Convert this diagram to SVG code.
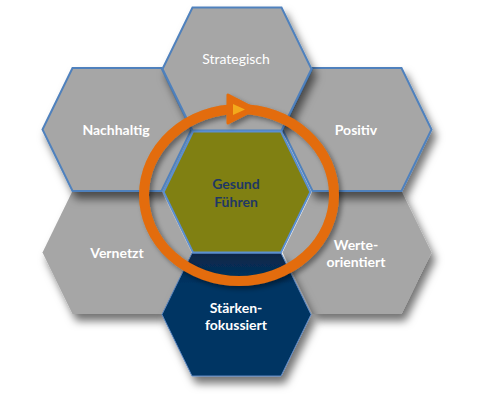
<svg xmlns="http://www.w3.org/2000/svg" xmlns:xlink="http://www.w3.org/1999/xlink" width="480" height="403" viewBox="0 0 480 403">
<defs>
<path id="hex" d="M-74.5,0 L-44.5,-61.5 L44.5,-61.5 L74.5,0 L44.5,61.5 L-44.5,61.5 Z"/>
<filter id="sh" x="-30%" y="-30%" width="160%" height="170%">
<feDropShadow dx="4" dy="7" stdDeviation="4" flood-color="#000" flood-opacity="0.55"/>
</filter>
<filter id="rsh" x="-20%" y="-20%" width="140%" height="140%">
<feDropShadow dx="3" dy="3" stdDeviation="2.5" flood-color="#000" flood-opacity="0.4"/>
</filter>
<linearGradient id="navy" x1="0" y1="0" x2="0" y2="1">
<stop offset="0" stop-color="#0b2747"/>
<stop offset="0.25" stop-color="#003463"/>
<stop offset="1" stop-color="#003463"/>
</linearGradient>
</defs>
<style>
.g{fill:#a6a6a6;filter:url(#sh)}
.b{stroke:#4f81bd;stroke-width:2}
.t{font-family:Lato,"Liberation Sans",sans-serif;font-size:14px;fill:#ffffff;text-anchor:middle;font-weight:bold}
.r{font-weight:normal}
.c{fill:#1f3864}
</style>
<g id="node-vernetzt"><use xlink:href="#hex" class="g" transform="translate(117,252.5)"/><text class="t" x="117" y="258">Vernetzt</text></g>
<g id="node-werte"><use xlink:href="#hex" class="g" transform="translate(357,252.5)"/><text class="t" x="356" y="250">Werte-</text><text class="t" x="356" y="267">orientiert</text></g>
<g id="node-nachhaltig"><use xlink:href="#hex" class="g b" transform="translate(117,129.5)"/><text class="t" x="116" y="135">Nachhaltig</text></g>
<g id="node-positiv"><use xlink:href="#hex" class="g b" transform="translate(357,129.5)"/><text class="t" x="356" y="135">Positiv</text></g>
<g id="node-strategisch"><use xlink:href="#hex" class="g b" transform="translate(237,69)"/><text class="t r" x="236" y="64">Strategisch</text></g>
<g id="node-staerken"><use xlink:href="#hex" fill="url(#navy)" stroke="#5b86c0" stroke-width="1" filter="url(#sh)" transform="translate(236.5,314.5)"/><text class="t" x="236" y="313">Stärken-</text><text class="t" x="236" y="330">fokussiert</text></g>
<g id="node-gesund"><use xlink:href="#hex" fill="#808012" stroke="#5b8fd0" stroke-width="2" transform="translate(237,192) scale(0.985)"/><text class="t c" x="236" y="189">Gesund</text><text class="t c" x="236" y="207">Führen</text></g>
<g id="connectors" filter="url(#rsh)">
<ellipse cx="239" cy="195" rx="95" ry="86" fill="none" stroke="#e36c0a" stroke-width="10"/>
<polygon points="228,95 228,123 255,109" fill="#e36c0a" stroke="#e36c0a" stroke-width="3" stroke-linejoin="round"/>
<polygon points="233,104 233,115 245,109.5" fill="#f3a91c"/>
</g>
</svg>
